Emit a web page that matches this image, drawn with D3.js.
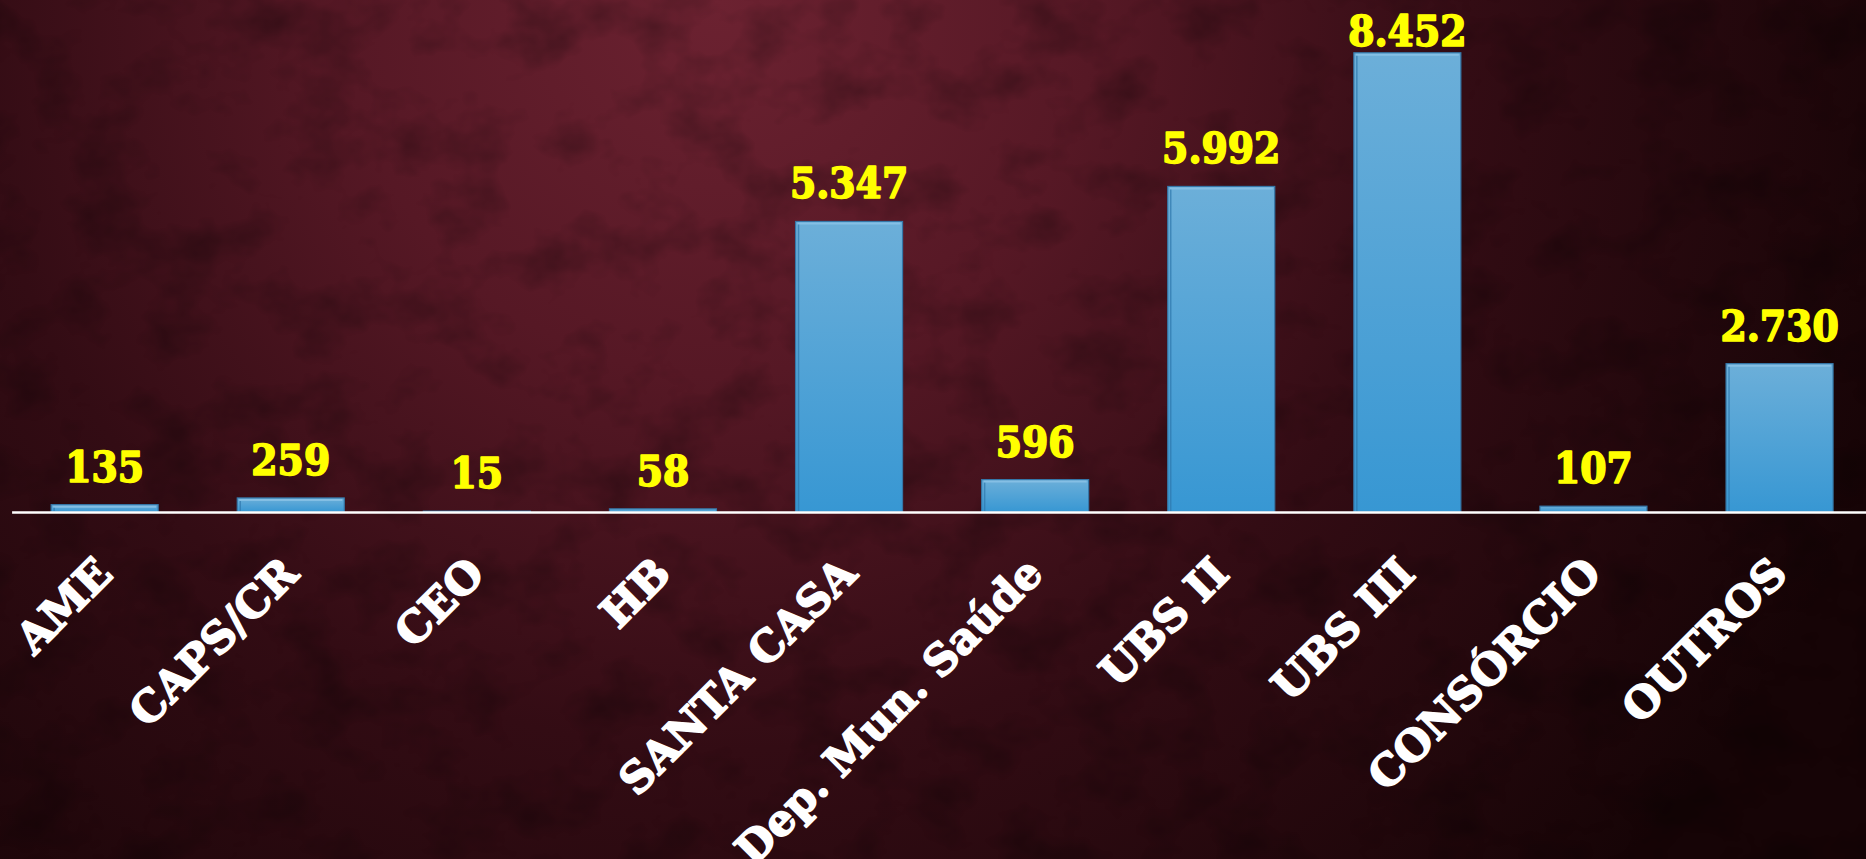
<!DOCTYPE html>
<html>
<head>
<meta charset="utf-8">
<script src="https://cdn.jsdelivr.net/npm/d3@7/dist/d3.min.js"></script>
<style>
  html, body { margin: 0; padding: 0; background: #1c0609; overflow: hidden; }
  svg { display: block; }
</style>
</head>
<body>
<svg id="chart" width="1866" height="859"></svg>
<script>
const categories = ["AME", "CAPS/CR", "CEO", "HB", "SANTA CASA", "Dep. Mun. Saúde", "UBS II", "UBS III", "CONSÓRCIO", "OUTROS"];
const values = [135, 259, 15, 58, 5347, 596, 5992, 8452, 107, 2730];
const valueLabels = ["135", "259", "15", "58", "5.347", "596", "5.992", "8.452", "107", "2.730"];

const W = 1866, H = 859;
const svg = d3.select("#chart");
const defs = svg.append("defs");

// background
const bg = defs.append("radialGradient").attr("id", "bg")
  .attr("gradientUnits", "userSpaceOnUse")
  .attr("cx", 720).attr("cy", 0).attr("r", 1250);
bg.append("stop").attr("offset", "0%").attr("stop-color", "#6c2231");
bg.append("stop").attr("offset", "30%").attr("stop-color", "#561825");
bg.append("stop").attr("offset", "60%").attr("stop-color", "#330c14");
bg.append("stop").attr("offset", "100%").attr("stop-color", "#160406");

const noise = defs.append("filter").attr("id", "noise").attr("x", 0).attr("y", 0).attr("width", "100%").attr("height", "100%");
noise.append("feTurbulence").attr("type", "fractalNoise").attr("baseFrequency", "0.014 0.018").attr("numOctaves", 4).attr("seed", 7).attr("result", "t");
noise.append("feColorMatrix").attr("in", "t").attr("type", "matrix")
  .attr("values", "0 0 0 0 0  0 0 0 0 0  0 0 0 0 0  0 0 0 -1.6 0.85");

svg.append("rect").attr("width", W).attr("height", H).attr("fill", "url(#bg)");
svg.append("rect").attr("width", W).attr("height", H).attr("fill", "#000").attr("filter", "url(#noise)").attr("opacity", 0.4);

// bar gradient
const bgr = defs.append("linearGradient").attr("id", "barGrad").attr("x1", 0).attr("y1", 0).attr("x2", 0).attr("y2", 1);
bgr.append("stop").attr("offset", "0%").attr("stop-color", "#6cafd9");
bgr.append("stop").attr("offset", "100%").attr("stop-color", "#3797d3");

const baseY = 512;
const x = d3.scaleBand().domain(categories).range([11.6, 1872.6]).paddingInner(0.425).paddingOuter(0.2125);
const y = d3.scaleLinear().domain([0, 9000]).range([baseY, 23]);

const data = categories.map((c, i) => ({ c, v: values[i], label: valueLabels[i] }));

// bars
const bars = svg.append("g");
bars.selectAll("rect.bar").data(data).join("rect")
  .attr("class", "bar")
  .attr("x", d => x(d.c))
  .attr("y", d => y(d.v))
  .attr("width", x.bandwidth())
  .attr("height", d => baseY - y(d.v))
  .attr("fill", "url(#barGrad)")
  .attr("stroke", "#3577a8")
  .attr("stroke-width", 1.2);
// bevel highlights
bars.selectAll("line.hl").data(data.filter(d => baseY - y(d.v) > 6)).join("line")
  .attr("class", "hl")
  .attr("x1", d => x(d.c) + 2).attr("x2", d => x(d.c) + x.bandwidth() - 2)
  .attr("y1", d => y(d.v) + 2).attr("y2", d => y(d.v) + 2)
  .attr("stroke", "#8cc4e8").attr("stroke-width", 2).attr("opacity", 0.8);
bars.selectAll("line.sh").data(data.filter(d => baseY - y(d.v) > 6)).join("line")
  .attr("class", "sh")
  .attr("x1", d => x(d.c) + 3).attr("x2", d => x(d.c) + 3)
  .attr("y1", d => y(d.v) + 3).attr("y2", baseY)
  .attr("stroke", "#2f78ad").attr("stroke-width", 1.5).attr("opacity", 0.7);

// axis
const axis = svg.append("g").attr("transform", `translate(0,${baseY})`)
  .call(d3.axisBottom(x).tickSize(0).tickSizeOuter(0));
axis.select(".domain").attr("stroke", "#ffffff").attr("stroke-width", 2.5);
axis.selectAll(".tick text")
  .attr("x", 0).attr("y", 0).attr("dy", null)
  .attr("text-anchor", "end")
  .attr("transform", "translate(10,64) rotate(-45)")
  .attr("fill", "#ffffff")
  .attr("stroke", "#ffffff")
  .attr("stroke-width", 1.6)
  .attr("stroke-linejoin", "round")
  .attr("font-family", "'DejaVu Serif', serif")
  .attr("font-weight", "bold")
  .attr("font-size", 43);

// value labels
svg.append("g").selectAll("text").data(data).join("text")
  .attr("x", d => x(d.c) + x.bandwidth() / 2)
  .attr("y", d => Math.max(y(d.v) - 23, 46))
  .attr("text-anchor", "middle")
  .attr("fill", "#ffff00")
  .attr("stroke", "#ffff00")
  .attr("stroke-width", 1.6)
  .attr("stroke-linejoin", "round")
  .attr("font-family", "'DejaVu Serif Condensed', 'DejaVu Serif', serif")
  .attr("font-stretch", "condensed")
  .attr("font-weight", "bold")
  .attr("font-size", 42)
  .text(d => d.label);
</script>
</body>
</html>
